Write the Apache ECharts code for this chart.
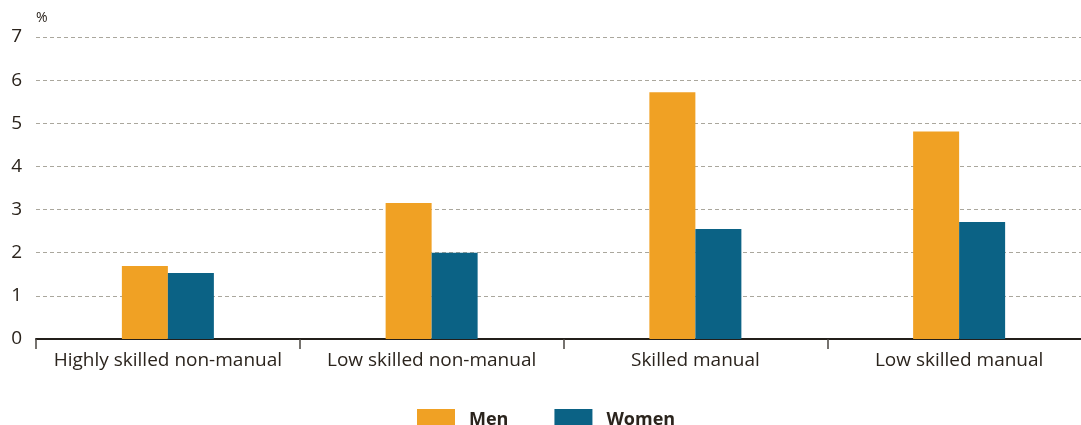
<!DOCTYPE html>
<html>
<head>
<meta charset="utf-8">
<script src="https://cdn.jsdelivr.net/npm/echarts@6/dist/echarts.min.js"></script>
<style>html,body{margin:0;padding:0;background:#fff;overflow:hidden;width:1081px;height:425px;}#c{width:1091px;height:425px;}</style>
</head>
<body>
<div id="c"></div>
<script>
const categories = ['Highly skilled non-manual', 'Low skilled non-manual', 'Skilled manual', 'Low skilled manual'];
const men = [1.69, 3.15, 5.72, 4.81];
const women = [1.53, 2.0, 2.55, 2.71];
const yTicks = [0, 1, 2, 3, 4, 5, 6, 7];

const textColor = '#2b241d';
const font = 'Open Sans';
const chart = echarts.init(document.getElementById('c'), null, {renderer: 'canvas'});
chart.setOption({
  animation: false,
  backgroundColor: '#fff',
  textStyle: {fontFamily: font, color: textColor},
  grid: {left: 36, right: 0, top: 37, bottom: 86, containLabel: false},
  legend: {
    data: ['Men', 'Women'],
    top: 404, left: 412,
    icon: 'rect', itemWidth: 38, itemHeight: 21, itemGap: 46,
    textStyle: {fontFamily: font, fontWeight: 'bold', fontSize: 18, color: textColor, padding: [0, 0, 0, 9]}
  },
  xAxis: {
    type: 'category', data: categories,
    axisLine: {lineStyle: {color: '#231f1a', width: 2}},
    axisTick: {show: true, interval: 0, length: 10, lineStyle: {color: '#4a4540', width: 1.5}},
    axisLabel: {interval: 0, fontFamily: font, fontSize: 19, color: textColor, margin: 12}
  },
  yAxis: {
    type: 'value', min: 0, max: 7, interval: 1,
    name: '%', nameLocation: 'end', nameGap: 12,
    nameTextStyle: {fontFamily: font, fontSize: 14, color: textColor, align: 'left'},
    axisLine: {show: false}, axisTick: {show: false},
    axisLabel: {fontFamily: font, fontSize: 19, color: textColor, margin: 14,
      formatter: v => yTicks.includes(v) ? String(v) : ''},
    splitLine: {lineStyle: {type: [4, 3], color: '#aaa79d', width: 1}}
  },
  series: [
    {name: 'Men', type: 'bar', data: men, barWidth: 46, barGap: '0%', itemStyle: {color: '#f0a124'}},
    {name: 'Women', type: 'bar', data: women, barWidth: 46, barGap: '0%', itemStyle: {color: '#0b6285'}}
  ]
});
</script>
</body>
</html>
